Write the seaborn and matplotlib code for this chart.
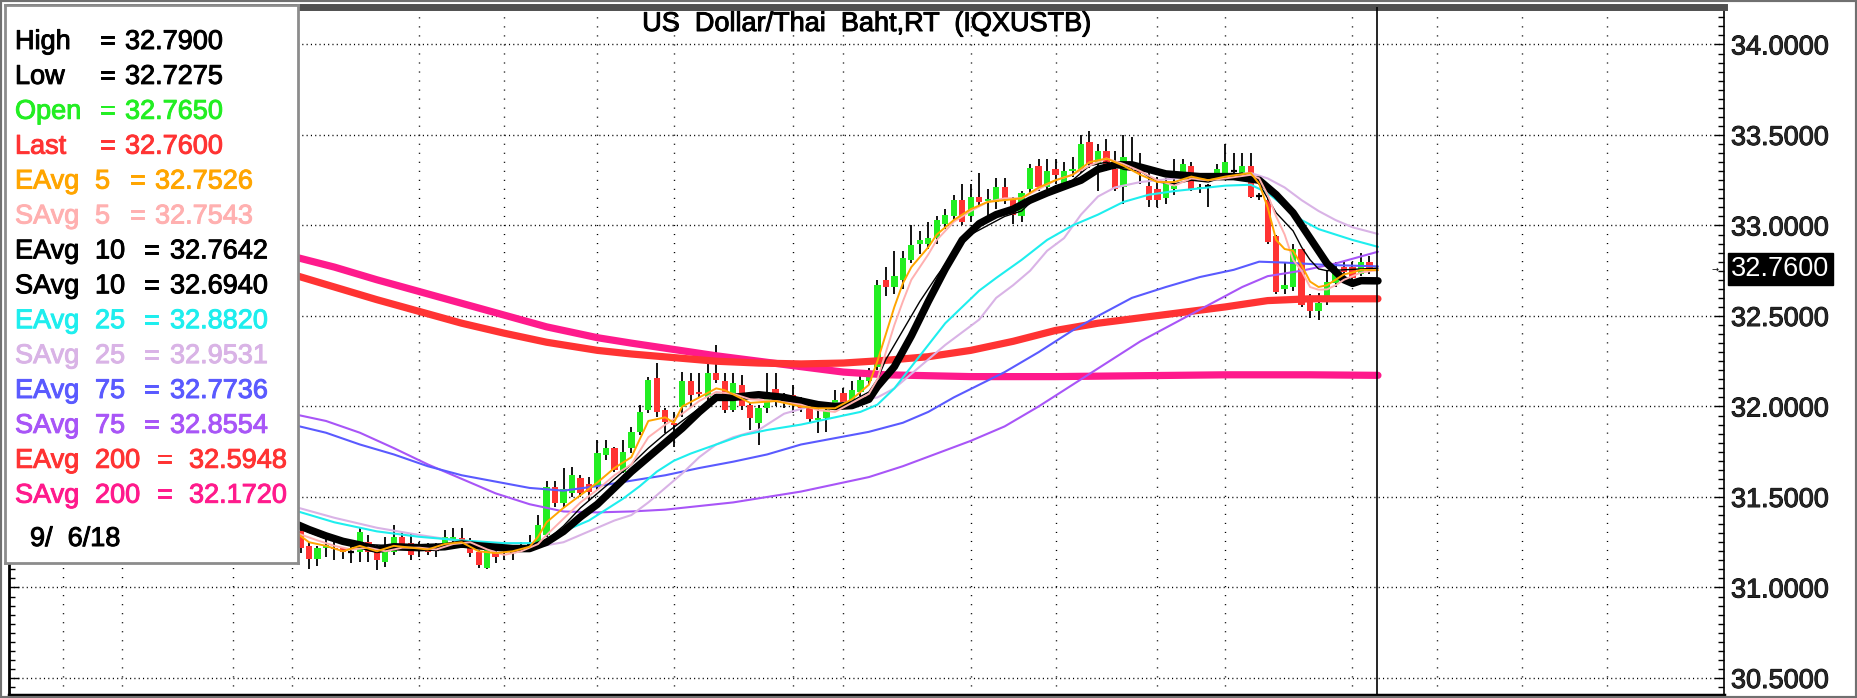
import matplotlib
matplotlib.use("Agg")
import matplotlib.pyplot as plt
import matplotlib.transforms as mtrans
import matplotlib.patheffects as pe
from matplotlib.ticker import MultipleLocator, FormatStrFormatter
import seaborn as sns

W, H = 1857, 698

# daily candles, bar index 1..127 (index 0 sits behind the info box)
bar_idx = list(range(1, 128))
opens = [31.31, 31.23, 31.16, 31.22, 31.22, 31.216, 31.20, 31.198, 31.253, 31.198,
         31.143, 31.198, 31.281, 31.244, 31.21, 31.216, 31.205, 31.244, 31.263, 31.272,
         31.263, 31.198, 31.106, 31.198, 31.189, 31.20, 31.22, 31.232, 31.244, 31.29,
         31.553, 31.465, 31.52, 31.603, 31.57, 31.557, 31.732, 31.769, 31.64, 31.769,
         31.861, 31.98, 32.156, 31.981, 31.911, 31.998, 32.138, 32.082, 32.055, 32.184,
         32.138, 31.981, 32.119, 32.009, 31.907, 31.99, 32.095, 32.027, 32.064, 32.027,
         32.0, 31.923, 31.935, 32.009, 32.073, 32.036, 32.082, 32.138, 32.22, 32.70,
         32.66, 32.70, 32.81, 32.90, 32.90, 32.93, 33.01, 33.05, 33.14, 33.05,
         33.16, 33.137, 33.13, 33.21, 33.15, 33.05, 33.20, 33.33, 33.21, 33.31,
         33.23, 33.30, 33.31, 33.46, 33.34, 33.41, 33.31, 33.21, 33.34, 33.32,
         33.22, 33.20, 33.15, 33.20, 33.29, 33.33, 33.20, 33.215, 33.28, 33.29,
         33.30, 33.29, 33.33, 33.163, 33.14, 32.94, 32.65, 32.66, 32.87, 32.59,
         32.53, 32.61, 32.68, 32.77, 32.77, 32.73, 32.80]
highs = [31.33, 31.25, 31.23, 31.27, 31.28, 31.226, 31.245, 31.327, 31.29, 31.235,
         31.281, 31.345, 31.309, 31.299, 31.253, 31.244, 31.244, 31.318, 31.327, 31.327,
         31.272, 31.207, 31.216, 31.226, 31.216, 31.226, 31.253, 31.29, 31.401, 31.59,
         31.59, 31.658, 31.668, 31.62, 31.61, 31.815, 31.815, 31.778, 31.815, 31.889,
         32.009, 32.165, 32.239, 31.99, 31.972, 32.193, 32.184, 32.184, 32.239, 32.34,
         32.184, 32.184, 32.174, 32.027, 32.009, 32.184, 32.184, 32.073, 32.119, 32.05,
         32.036, 32.0, 32.027, 32.091, 32.101, 32.138, 32.184, 32.21, 32.70, 32.77,
         32.86, 32.86, 33.00, 32.97, 33.02, 33.05, 33.09, 33.17, 33.23, 33.23,
         33.29, 33.20, 33.26, 33.26, 33.16, 33.19, 33.34, 33.37, 33.37, 33.37,
         33.35, 33.38, 33.50, 33.52, 33.45, 33.48, 33.41, 33.50, 33.49, 33.40,
         33.32, 33.27, 33.26, 33.37, 33.37, 33.35, 33.23, 33.23, 33.34, 33.45,
         33.40, 33.40, 33.40, 33.18, 33.16, 32.95, 32.79, 32.90, 32.87, 32.62,
         32.625, 32.75, 32.80, 32.80, 32.80, 32.846, 32.83]
lows = [31.19, 31.10, 31.12, 31.17, 31.15, 31.16, 31.135, 31.143, 31.143, 31.097,
        31.115, 31.18, 31.207, 31.152, 31.17, 31.18, 31.17, 31.216, 31.226, 31.216,
        31.17, 31.106, 31.10, 31.134, 31.152, 31.152, 31.207, 31.216, 31.216, 31.28,
        31.447, 31.447, 31.50, 31.50, 31.48, 31.54, 31.705, 31.64, 31.63, 31.742,
        31.843, 31.963, 31.944, 31.852, 31.778, 31.944, 32.0, 32.055, 32.027, 32.128,
        31.963, 31.972, 31.981, 31.871, 31.788, 31.963, 32.0, 31.99, 31.963, 31.97,
        31.907, 31.852, 31.861, 31.99, 32.0, 32.018, 32.06, 32.12, 32.20, 32.61,
        32.62, 32.65, 32.79, 32.84, 32.87, 32.90, 32.98, 33.03, 33.00, 33.02,
        33.10, 33.05, 33.09, 33.12, 33.01, 33.02, 33.18, 33.19, 33.20, 33.23,
        33.22, 33.27, 33.29, 33.32, 33.19, 33.30, 33.19, 33.12, 33.30, 33.23,
        33.10, 33.10, 33.12, 33.17, 33.25, 33.19, 33.18, 33.10, 33.27, 33.27,
        33.28, 33.27, 33.15, 33.14, 32.90, 32.62, 32.62, 32.64, 32.55, 32.49,
        32.48, 32.56, 32.66, 32.73, 32.69, 32.72, 32.73]
closes = [31.22, 31.16, 31.22, 31.235, 31.21, 31.198, 31.195, 31.309, 31.198, 31.152,
          31.226, 31.281, 31.235, 31.18, 31.216, 31.198, 31.207, 31.281, 31.281, 31.24,
          31.189, 31.124, 31.207, 31.167, 31.198, 31.196, 31.235, 31.236, 31.345, 31.553,
          31.469, 31.545, 31.62, 31.521, 31.53, 31.742, 31.769, 31.65, 31.751, 31.861,
          31.972, 32.147, 31.972, 31.917, 31.898, 32.138, 32.064, 32.069, 32.187, 32.147,
          31.981, 32.128, 32.0, 31.935, 31.99, 32.082, 32.027, 32.03, 32.027, 31.99,
          31.929, 31.935, 31.981, 32.036, 32.027, 32.091, 32.147, 32.18, 32.67, 32.66,
          32.72, 32.82, 32.89, 32.92, 32.93, 33.03, 33.06, 33.14, 33.02, 33.16,
          33.13, 33.144, 33.21, 33.14, 33.06, 33.18, 33.32, 33.21, 33.30, 33.28,
          33.30, 33.31, 33.45, 33.34, 33.41, 33.34, 33.20, 33.38, 33.35, 33.29,
          33.14, 33.14, 33.24, 33.22, 33.34, 33.20, 33.215, 33.217, 33.31, 33.35,
          33.305, 33.33, 33.16, 33.165, 32.91, 32.63, 32.67, 32.87, 32.56, 32.53,
          32.57, 32.69, 32.745, 32.745, 32.71, 32.80, 32.76]

# moving averages (bar index, value)
eavg5_k = [0, 2, 4, 6, 8, 10, 12, 14, 16, 18, 20, 22, 24, 26, 28, 29, 30, 32, 34, 36, 38, 40, 42,
           44, 45, 46, 48, 50, 51, 54, 57, 60, 62, 64, 66, 68, 69, 70, 71, 72, 73, 75, 76, 78,
           80, 82, 84, 86, 88, 90, 92, 94, 96, 98, 100, 102, 104, 106, 108, 110, 113, 114,
           115, 116, 117, 118, 119, 120, 121, 122, 123, 124, 125, 126, 128]
eavg5 = [31.32, 31.25, 31.23, 31.20, 31.23, 31.20, 31.23, 31.22, 31.21, 31.24, 31.25, 31.20,
         31.19, 31.20, 31.225, 31.28, 31.36, 31.44, 31.51, 31.58, 31.66, 31.72, 31.92, 31.94,
         31.91, 32.0, 32.05, 32.10, 32.09, 32.02, 32.03, 32.0, 31.99, 31.99, 32.04, 32.12,
         32.25, 32.40, 32.55, 32.68, 32.77, 32.88, 32.95, 33.03, 33.09, 33.13, 33.14, 33.15,
         33.21, 33.25, 33.28, 33.35, 33.37, 33.33, 33.28, 33.24, 33.24, 33.27, 33.25, 33.27,
         33.29, 33.23, 33.10, 32.92, 32.87, 32.86, 32.78, 32.69, 32.66, 32.67, 32.70, 32.73,
         32.74, 32.755, 32.753]
savg5_k = [0, 3, 5, 7, 9, 11, 13, 15, 17, 19, 21, 23, 25, 27, 29, 30, 32, 34, 36, 38, 40, 42,
           44, 46, 48, 50, 52, 54, 57, 60, 62, 64, 66, 68, 69, 70, 71, 72, 73, 75, 76, 78, 80,
           82, 84, 86, 88, 90, 92, 94, 96, 98, 100, 102, 104, 106, 108, 110, 113, 114, 115,
           116, 117, 118, 119, 120, 121, 122, 123, 124, 125, 126, 128]
savg5 = [31.31, 31.26, 31.23, 31.21, 31.22, 31.20, 31.22, 31.22, 31.21, 31.24, 31.25, 31.21,
         31.18, 31.20, 31.24, 31.29, 31.38, 31.47, 31.54, 31.62, 31.68, 31.83, 31.90, 31.96,
         32.03, 32.08, 32.07, 32.04, 32.03, 32.01, 31.98, 31.97, 32.02, 32.07, 32.15, 32.30,
         32.45, 32.58, 32.70, 32.84, 32.92, 33.02, 33.08, 33.13, 33.15, 33.15, 33.20, 33.25,
         33.28, 33.33, 33.37, 33.34, 33.30, 33.25, 33.22, 33.26, 33.25, 33.26, 33.28, 33.26,
         33.17, 33.05, 32.95, 32.81, 32.75, 32.66, 32.645, 32.647, 32.67, 32.70, 32.72, 32.74,
         32.754]
eavg10_k = [0, 4, 8, 12, 16, 20, 24, 28, 30, 32, 34, 36, 38, 40, 42, 44, 46, 48, 50, 53, 56,
            60, 63, 66, 68, 69, 70, 72, 74, 76, 78, 80, 82, 84, 86, 88, 90, 92, 94, 96, 98, 100,
            102, 104, 106, 108, 110, 112, 113, 114, 115, 116, 118, 119, 120, 121, 122, 124, 126, 128]
eavg10 = [31.34, 31.27, 31.24, 31.23, 31.22, 31.24, 31.22, 31.22, 31.26, 31.34, 31.44, 31.52,
          31.60, 31.68, 31.77, 31.85, 31.92, 31.99, 32.05, 32.07, 32.05, 32.03, 32.0, 32.03,
          32.08, 32.15, 32.26, 32.42, 32.58, 32.72, 32.85, 32.95, 33.0, 33.05, 33.08, 33.17,
          33.22, 33.25, 33.33, 33.35, 33.31, 33.30, 33.24, 33.23, 33.25, 33.24, 33.27, 33.29,
          33.26, 33.23, 33.15, 33.07, 32.97, 32.88, 32.81, 32.76, 32.75, 32.755, 32.76, 32.764]
savg10_k = [0, 2, 4, 6, 8, 10, 12, 15, 18, 20, 22, 26, 28, 30, 32, 34, 36, 38, 40, 42, 44, 46,
            48, 50, 52, 55, 58, 60, 62, 64, 66, 68, 69, 71, 73, 75, 77, 79, 81, 83, 85, 87, 89,
            91, 93, 95, 97, 99, 101, 103, 107, 111, 114, 116, 118, 120, 122, 124, 125, 126, 128]
savg10 = [31.36, 31.32, 31.285, 31.255, 31.235, 31.21, 31.225, 31.22, 31.225, 31.24, 31.23,
          31.215, 31.215, 31.25, 31.31, 31.39, 31.46, 31.55, 31.64, 31.72, 31.80, 31.88, 31.97,
          32.05, 32.05, 32.065, 32.05, 32.03, 32.01, 32.0, 32.005, 32.04, 32.11, 32.22, 32.39,
          32.58, 32.76, 32.92, 33.01, 33.06, 33.09, 33.14, 33.18, 33.215, 33.25, 33.31, 33.335,
          33.335, 33.31, 33.285, 33.27, 33.27, 33.25, 33.17, 33.07, 32.93, 32.79, 32.70, 32.68,
          32.695, 32.694]
eavg25_k = [0, 5, 10, 15, 20, 25, 29, 31, 33, 35, 37, 39, 41, 43, 45, 47, 50, 53, 56, 60, 64,
            67, 69, 71, 73, 75, 77, 79, 81, 83, 86, 89, 92, 95, 98, 101, 104, 107, 110, 113,
            115, 117, 119, 121, 123, 125, 128]
eavg25 = [31.43, 31.36, 31.31, 31.28, 31.26, 31.245, 31.245, 31.28, 31.33, 31.37, 31.43, 31.49,
          31.56, 31.64, 31.70, 31.74, 31.79, 31.84, 31.87, 31.90, 31.94, 31.97, 32.01, 32.10,
          32.22, 32.34, 32.46, 32.55, 32.64, 32.71, 32.81, 32.92, 33.0, 33.06, 33.13, 33.17,
          33.19, 33.205, 33.22, 33.225, 33.18, 33.105, 33.03, 32.98, 32.95, 32.92, 32.882]
savg25_k = [0, 5, 10, 15, 20, 25, 29, 32, 34, 36, 38, 40, 42, 44, 46, 48, 50, 52, 55, 58, 61,
            65, 69, 71, 73, 75, 77, 79, 81, 83, 85, 87, 89, 91, 93, 95, 97, 100, 104, 108, 113,
            115, 117, 119, 121, 123, 125, 128]
savg25 = [31.45, 31.385, 31.33, 31.29, 31.255, 31.23, 31.225, 31.25, 31.29, 31.33, 31.37, 31.40,
          31.47, 31.55, 31.63, 31.72, 31.79, 31.83, 31.87, 31.96, 32.0, 32.02, 32.05, 32.10,
          32.18, 32.26, 32.34, 32.41, 32.48, 32.60, 32.67, 32.75, 32.86, 32.93, 33.06, 33.16,
          33.21, 33.24, 33.26, 33.27, 33.29, 33.26, 33.21, 33.14, 33.08, 33.03, 32.99, 32.953]
eavg75_k = [0, 4, 8, 12, 16, 20, 24, 28, 32, 36, 40, 44, 48, 52, 56, 60, 64, 68, 72, 75, 78,
            81, 84, 88, 92, 95, 99, 103, 107, 111, 114, 117, 122, 128]
eavg75 = [31.90, 31.855, 31.79, 31.735, 31.67, 31.62, 31.585, 31.55, 31.535, 31.56, 31.59,
          31.62, 31.66, 31.695, 31.735, 31.79, 31.825, 31.86, 31.91, 31.97, 32.05, 32.12, 32.19,
          32.30, 32.42, 32.50, 32.60, 32.66, 32.715, 32.755, 32.80, 32.795, 32.782, 32.774]
savg75_k = [0, 4, 8, 12, 16, 20, 24, 28, 32, 36, 40, 44, 48, 52, 56, 60, 64, 68, 72, 76, 80,
            84, 88, 92, 96, 100, 104, 108, 112, 115, 119, 123, 128]
savg75 = [31.96, 31.92, 31.855, 31.77, 31.68, 31.60, 31.52, 31.46, 31.42, 31.415, 31.42, 31.43,
          31.45, 31.47, 31.50, 31.53, 31.57, 31.61, 31.67, 31.74, 31.81, 31.89, 32.0, 32.12,
          32.24, 32.36, 32.46, 32.56, 32.66, 32.72, 32.75, 32.79, 32.855]
eavg200_k = [0, 5, 10, 15, 20, 25, 30, 36, 40, 45, 50, 55, 60, 65, 70, 75, 80, 85, 90, 95,
             100, 105, 110, 115, 120, 128]
eavg200 = [32.73, 32.66, 32.59, 32.525, 32.46, 32.405, 32.355, 32.31, 32.29, 32.27, 32.25,
           32.24, 32.235, 32.24, 32.255, 32.275, 32.31, 32.36, 32.42, 32.46, 32.49, 32.52,
           32.55, 32.585, 32.595, 32.595]
savg200_k = [0, 5, 10, 15, 20, 25, 30, 36, 40, 45, 50, 55, 60, 65, 70, 80, 90, 100, 110, 120, 128]
savg200 = [32.83, 32.77, 32.70, 32.635, 32.57, 32.505, 32.44, 32.38, 32.35, 32.315, 32.28,
           32.25, 32.22, 32.19, 32.175, 32.165, 32.165, 32.17, 32.175, 32.175, 32.172]

# dotted date grid (bar index) and the "now" bar
grid_k = [-27, -20, -7, 0, 15, 25, 36, 45, 59, 65, 80, 90, 102, 110, 125, 135, 145, 155]
now_k = 127.9
last_price = 32.76

# info box rows
info_labels = ["High", "Low", "Open", "Last", "EAvg", "SAvg", "EAvg", "SAvg", "EAvg", "SAvg",
               "EAvg", "SAvg", "EAvg", "SAvg"]
info_periods = ["", "", "", "", "5", "5", "10", "10", "25", "25", "75", "75", "200", "200"]
info_values = ["32.7900", "32.7275", "32.7650", "32.7600", "32.7526", "32.7543", "32.7642",
               "32.6940", "32.8820", "32.9531", "32.7736", "32.8554", "32.5948", "32.1720"]
info_colors = ["black", "black", "#22EE22", "#FF3333", "#FFA500", "#FFB0B0", "black", "black",
               "#1EEEEE", "#D9B3E6", "#5A5AFF", "#A855F7", "#FF3333", "#FF1A8C"]
info_date = "9/  6/18"
title = "US  Dollar/Thai  Baht,RT  (IQXUSTB)"

sns.set_style("white")
plt.rcParams['font.family'] = ['Liberation Sans', 'DejaVu Sans']
FS = 19.5


def fx(x):
    return x / W


def fy(y):
    return 1 - y / H


def heavy(col):
    # the original text is drawn a touch heavier than plain anti-aliased Arial
    return [pe.withStroke(linewidth=0.7, foreground=col)]


fig = plt.figure(figsize=(W / 100, H / 100), dpi=100)
ax = fig.add_axes([fx(9), fy(695), fx(1724) - fx(9), fy(7) - fy(695)])
ax.set_xlim(-33.36, 168.79)
ax.set_ylim(30.406, 34.207)

# grid
for v in [30.5, 31.0, 31.5, 32.0, 32.5, 33.0, 33.5, 34.0]:
    ax.axhline(v, color='black', lw=1.0, ls=(0, (0.8, 2.3)), zorder=0.5)
for k in grid_k:
    ax.axvline(k, color='black', lw=1.0, ls=(0, (0.8, 5.7)), zorder=0.5)

# candles
ax.vlines(bar_idx, lows, highs, color='black', lw=1.3, zorder=2)
for k, o, c in zip(bar_idx, opens, closes):
    if abs(c - o) < 0.006:
        ax.hlines((o + c) / 2, k - 0.36, k + 0.36, color='black', lw=1.6, zorder=2.1)
        continue
    col = '#22EE22' if c > o else '#FF3333'
    ax.bar(k, c - o, bottom=o, width=0.74, color=col, edgecolor=col, lw=0, zorder=2.1)

# moving averages
ma_lines = [
    (savg200_k, savg200, '#FF1A8C', 5.2, 3.0),
    (eavg200_k, eavg200, '#FF3333', 5.2, 3.1),
    (savg75_k, savg75, '#A855F7', 1.5, 3.2),
    (eavg75_k, eavg75, '#5A5AFF', 1.5, 3.3),
    (savg25_k, savg25, '#D9B3E6', 1.5, 3.4),
    (eavg25_k, eavg25, '#1EEEEE', 1.5, 3.5),
    (savg10_k, savg10, 'black', 5.4, 3.6),
    (eavg10_k, eavg10, 'black', 1.0, 3.7),
    (savg5_k, savg5, '#FFB0B0', 1.4, 3.8),
    (eavg5_k, eavg5, '#FFA500', 1.4, 3.9),
]
for ks, vs, col, lw, z in ma_lines:
    sns.lineplot(x=ks, y=vs, ax=ax, color=col, linewidth=lw, zorder=z,
                 estimator=None, sort=False, legend=False)

ax.axvline(now_k, color='black', lw=1.2, zorder=4)

# axis styling
ax.set_xlabel("")
ax.set_ylabel("")
ax.set_xticks([])
ax.yaxis.set_major_locator(MultipleLocator(0.5))
ax.yaxis.set_minor_locator(MultipleLocator(0.05))
ax.yaxis.set_major_formatter(FormatStrFormatter('%.4f'))
ax.tick_params(axis='y', which='both', direction='in', left=True, right=True,
               labelleft=False, labelright=True, color='black', width=1.0)
ax.tick_params(axis='y', which='major', length=7, labelsize=FS, pad=5)
ax.tick_params(axis='y', which='minor', length=4.5)
for lbl in ax.get_yticklabels():
    lbl.set_path_effects(heavy('black'))
for side, col, lw in [('left', 'black', 2.0), ('right', 'black', 1.2),
                      ('bottom', 'black', 2.5), ('top', '#505050', 5.0)]:
    ax.spines[side].set_visible(True)
    ax.spines[side].set_color(col)
    ax.spines[side].set_linewidth(lw)

# last price tag
trans = mtrans.blended_transform_factory(ax.transAxes, ax.transData)
ax.text((1731 - 9) / 1715, last_price, f"{last_price:.4f}", transform=trans, color='white',
        fontsize=FS, va='center', ha='left', zorder=10, clip_on=False,
        bbox=dict(boxstyle='square,pad=0.12', fc='black', ec='black'))
ax.text((1712 - 9) / 1715, last_price, "\u2192", transform=trans, color='black', fontsize=6,
        va='center', ha='left', zorder=10, family='DejaVu Sans')

# info box
lax = fig.add_axes([fx(5), fy(563), fx(298) - fx(5), fy(5) - fy(563)], zorder=5)
lax.set_facecolor('white')
lax.set_xticks([])
lax.set_yticks([])
for s in lax.spines.values():
    s.set_visible(True)
    s.set_color('#8C8C8C')
    s.set_linewidth(2.0)

for i, (lab, per, val, col) in enumerate(zip(info_labels, info_periods, info_values, info_colors)):
    yb = 39 + 34.9 * i + 10
    if per == "":
        xs = [(15, lab), (100, "="), (125, val)]
    elif len(per) == 1:
        xs = [(15, lab), (95, per), (130, "="), (155, val)]
    elif len(per) == 2:
        xs = [(15, lab), (95, per), (144, "="), (170, val)]
    else:
        xs = [(15, lab), (95, per), (157, "="), (189, val)]
    for x, t in xs:
        fig.text(fx(x), fy(yb), t, color=col, fontsize=FS, ha='left', va='baseline', zorder=10,
                 path_effects=heavy(col))
fig.text(fx(30), fy(536 + 10), info_date, color='black', fontsize=FS, ha='left',
         va='baseline', zorder=10, path_effects=heavy('black'))

fig.text(fx(867), fy(21 + 10), title, color='black', fontsize=FS, ha='center',
         va='baseline', zorder=10, path_effects=heavy('black'))

# outer frame
fig.patches.append(plt.Rectangle((0, 0), 1, 1, transform=fig.transFigure, fill=False,
                                 ec='#707070', lw=3, zorder=20))

fig.savefig('out.png', dpi=100)
